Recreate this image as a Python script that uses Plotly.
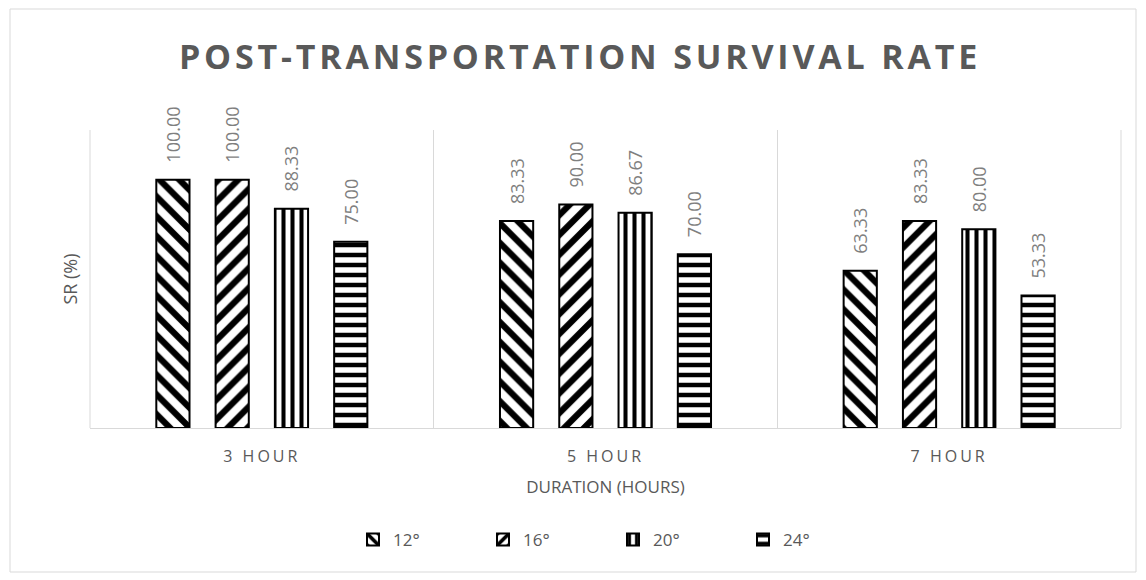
import plotly.graph_objects as go

categories = ["3 HOUR", "5 HOUR", "7 HOUR"]
series_names = ["12°", "16°", "20°", "24°"]
sr_12 = [100.00, 83.33, 63.33]
sr_16 = [100.00, 90.00, 83.33]
sr_20 = [88.33, 86.67, 80.00]
sr_24 = [75.00, 70.00, 53.33]

series_values = [sr_12, sr_16, sr_20, sr_24]
patterns = ["\\", "/", "|", "-"]
pattern_sizes = [14, 14, 9, 10]

W, H = 1146, 580
ML, MR, MT, MB = 90, 25, 130, 152
FONT = "Open Sans"
GRAY = "#595959"
GRID = "#d9d9d9"

fig = go.Figure()
for name, vals, shp, sz in zip(series_names, series_values, patterns, pattern_sizes):
    fig.add_trace(go.Bar(
        name=name, x=categories, y=vals,
        marker=dict(color="white",
                    line=dict(color="black", width=2),
                    pattern=dict(shape=shp, size=sz, solidity=0.45,
                                 fgcolor="black", bgcolor="white", fillmode="replace")),
        texttemplate="\u00a0\u00a0\u00a0%{y:.2f}",
        textposition="outside", textangle=-90,
        textfont=dict(family=FONT, size=18, color="#7f7f7f"),
        constraintext="none", cliponaxis=False,
    ))

pw = W - ML - MR
ph = H - MT - MB
fig.add_shape(type="rect", xref="paper", yref="paper",
              x0=(10 - ML) / pw, x1=(1136 - ML) / pw,
              y0=(H - MB - 572) / ph, y1=(H - MB - 9) / ph,
              line=dict(color=GRID, width=1), fillcolor="rgba(0,0,0,0)", layer="below")
for xe in (0, 1):
    fig.add_shape(type="line", xref="paper", yref="paper", x0=xe, x1=xe, y0=0, y1=1,
                  line=dict(color=GRID, width=1), layer="below")

fig.update_layout(
    width=W, height=H,
    margin=dict(l=ML, r=MR, t=MT, b=MB),
    paper_bgcolor="white", plot_bgcolor="white",
    barmode="group", bargap=0.31, bargroupgap=0.44,
    title=dict(text="<b>POST-TRANSPORTATION SURVIVAL RATE</b>",
               x=580 / W, xanchor="center", xref="container",
               y=1 - 57 / H, yanchor="middle", yref="container",
               font=dict(family=FONT, size=34, color=GRAY)),
    font=dict(family=FONT, color=GRAY),
    xaxis=dict(tickson="boundaries", showgrid=True, gridcolor=GRID, gridwidth=1,
               showline=True, linecolor=GRID, linewidth=1, ticks="",
               tickfont=dict(family=FONT, size=16, color=GRAY), ticklabelstandoff=14,
               title=dict(text="DURATION (HOURS)", font=dict(family=FONT, size=17, color=GRAY),
                          standoff=14)),
    yaxis=dict(range=[0, 120], showgrid=False, showticklabels=False, ticks="",
               zeroline=False, showline=False,
               title=dict(text="SR (%)", font=dict(family=FONT, size=18, color=GRAY), standoff=6)),
    legend=dict(orientation="h", x=613 / W, xanchor="center", xref="container",
                y=1 - 540 / H, yanchor="middle", yref="container",
                entrywidth=85, font=dict(family=FONT, size=17, color=GRAY)),
    showlegend=True,
)

post = """
document.body.style.margin = '0';
var gd = document.getElementById('{plot_id}');
gd.querySelectorAll('.gtitle').forEach(function(t){t.style.letterSpacing='3.8px';});
gd.querySelectorAll('.xtick text').forEach(function(t){t.style.letterSpacing='3px';});
"""
fig.write_html("out.html", post_script=post, config={"displayModeBar": False})
